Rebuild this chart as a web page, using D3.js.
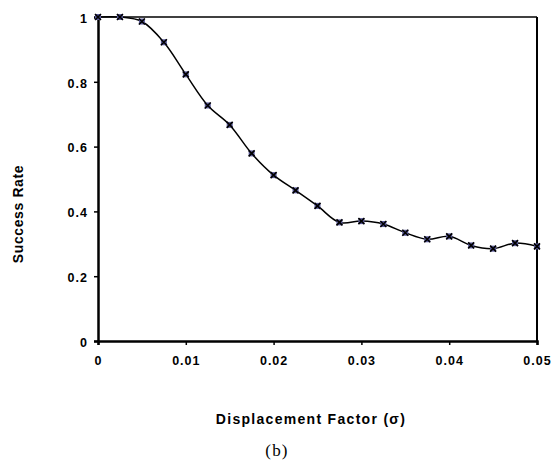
<!DOCTYPE html>
<html>
<head>
<meta charset="utf-8">
<script src="https://cdn.jsdelivr.net/npm/d3@7"></script>
<style>
  body { margin: 0; background: #fff; }
  svg { display: block; }
</style>
</head>
<body>
<script>
// displacement factor (sigma) and measured success rate
var sigma = [0, 0.0025, 0.005, 0.0075, 0.01, 0.0125, 0.015, 0.0175, 0.02, 0.0225, 0.025,
             0.0275, 0.03, 0.0325, 0.035, 0.0375, 0.04, 0.0425, 0.045, 0.0475, 0.05];
var successRate = [1.0, 1.0, 0.986, 0.922, 0.823, 0.727, 0.667, 0.579, 0.512, 0.465, 0.417,
                   0.366, 0.370, 0.361, 0.334, 0.314, 0.323, 0.295, 0.285, 0.302, 0.292];
var xTicks = [0, 0.01, 0.02, 0.03, 0.04, 0.05];
var yTicks = [0, 0.2, 0.4, 0.6, 0.8, 1];

var width = 555, height = 467;
var margin = { top: 17, right: 18, bottom: 126, left: 98 };
var sans = "'Liberation Sans', Arial, sans-serif";

var svg = d3.select("body").append("svg")
  .attr("width", width)
  .attr("height", height);

var x = d3.scaleLinear().domain([0, 0.05]).range([margin.left, width - margin.right]);
var y = d3.scaleLinear().domain([0, 1]).range([height - margin.bottom, margin.top]);

var points = sigma.map(function (s, i) { return { x: s, y: successRate[i] }; });

// frame: top and right are thinner
svg.append("line")
  .attr("x1", x(0)).attr("x2", x(0.05)).attr("y1", y(1)).attr("y2", y(1))
  .attr("stroke", "#000").attr("stroke-width", 1.5);
svg.append("line")
  .attr("x1", x(0.05)).attr("x2", x(0.05)).attr("y1", y(1)).attr("y2", y(0))
  .attr("stroke", "#000").attr("stroke-width", 2);

// axes
var xAxis = d3.axisBottom(x).tickValues(xTicks).tickSize(4).tickPadding(11)
  .tickFormat(function (d) { return d === 0 ? "0" : d3.format(".2f")(d); });
var yAxis = d3.axisLeft(y).tickValues(yTicks).tickSize(4).tickPadding(6)
  .tickFormat(function (d) { return (d === 0 || d === 1) ? d3.format("d")(d) : d3.format(".1f")(d); });

var gx = svg.append("g")
  .attr("transform", "translate(0," + y(0) + ")")
  .call(xAxis);
var gy = svg.append("g")
  .attr("transform", "translate(" + x(0) + ",0)")
  .call(yAxis);

[gx, gy].forEach(function (g) {
  g.select(".domain").attr("stroke-width", 2.5).attr("stroke", "#000");
  g.selectAll(".tick line").attr("stroke", "#000").attr("stroke-width", 1.5);
  g.selectAll(".tick text")
    .attr("fill", "#000")
    .style("font-family", sans)
    .style("font-weight", "bold")
    .style("font-size", "12.5px")
    .style("letter-spacing", "1px");
});
gy.selectAll(".tick text").attr("dy", "0.42em");

// smoothed line
var line = d3.line()
  .x(function (d) { return x(d.x); })
  .y(function (d) { return y(d.y); })
  .curve(d3.curveCatmullRom.alpha(0.5));

svg.append("path")
  .datum(points)
  .attr("d", line)
  .attr("fill", "none")
  .attr("stroke", "#000")
  .attr("stroke-width", 1.5);

// markers: small blue square with a black cross
var marks = svg.selectAll(".mark")
  .data(points)
  .enter().append("g")
  .attr("class", "mark")
  .attr("transform", function (d) { return "translate(" + x(d.x) + "," + y(d.y) + ")"; });

marks.append("rect")
  .attr("x", -3).attr("y", -3).attr("width", 6).attr("height", 6)
  .attr("fill", "#5a5a9a");
marks.append("path")
  .attr("d", "M-3,-3L3,3M-3,3L3,-3")
  .attr("stroke", "#000")
  .attr("stroke-width", 1.6);

// labels
svg.append("text")
  .attr("transform", "translate(23,214) rotate(-90)")
  .attr("text-anchor", "middle")
  .style("font-family", sans)
  .style("font-weight", "bold")
  .style("font-size", "14px")
  .style("letter-spacing", "0.6px")
  .text("Success Rate");

svg.append("text")
  .attr("x", 311)
  .attr("y", 424)
  .attr("text-anchor", "middle")
  .style("font-family", sans)
  .style("font-weight", "bold")
  .style("font-size", "14px")
  .style("letter-spacing", "1.3px")
  .text("Displacement Factor (σ)");

svg.append("text")
  .attr("x", 277)
  .attr("y", 456)
  .attr("text-anchor", "middle")
  .style("font-family", "'Liberation Serif', 'Times New Roman', serif")
  .style("font-size", "17px")
  .style("letter-spacing", "1.2px")
  .text("(b)");
</script>
</body>
</html>
